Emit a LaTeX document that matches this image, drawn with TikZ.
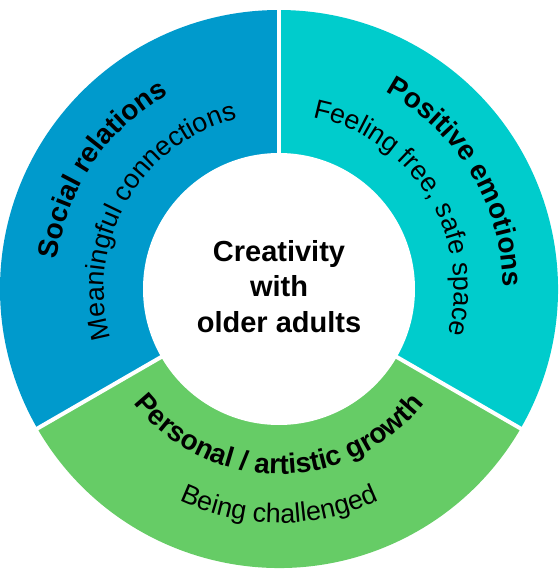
\documentclass[tikz,border=0pt]{standalone}
\usepackage{fontspec}
\setmainfont{Liberation Sans}
\usetikzlibrary{decorations.text}
\definecolor{segblue}{HTML}{009ACC}
\definecolor{segteal}{HTML}{00CCCC}
\definecolor{seggreen}{HTML}{66CC66}
\newcommand\headfont{\fontsize{15.9}{20.3}\selectfont\bfseries}
\newcommand\corefont{\fontsize{16.5}{20.3}\selectfont\bfseries}
\newcommand\subfont{\fontsize{15.3}{18}\selectfont}

\begin{document}
\begin{tikzpicture}[
  gapline/.style={draw=white, line width=0.8mm},
  curved/.style={decorate, decoration={text along path, text align=center, text={#1}}},
  every node/.style={font=\corefont}
]
\useasboundingbox (-5.58,-5.62) rectangle (5.60,5.78);
\fill[segblue] (0,0) -- (90:5.58) arc[start angle=90, end angle=210, radius=5.58] -- cycle;
\fill[segteal] (0,0) -- (-30:5.58) arc[start angle=-30, end angle=90, radius=5.58] -- cycle;
\fill[seggreen] (0,0) -- (210:5.58) arc[start angle=210, end angle=330, radius=5.58] -- cycle;
\foreach \a in {90,210,330} \draw[gapline] (0,0) -- (\a:5.7);
\fill[white] (0,0) circle[radius=2.72];
\node[align=center] (core) at (0,0.05) {Creativity\\with\\older adults};
\path[curved={|\headfont|Social relations}] (206:4.48) arc[start angle=206, end angle=86, radius=4.48];
\path[curved={|\subfont|Meaningful connections}] (210:3.50) arc[start angle=210, end angle=90, radius=3.50];
\path[curved={|\headfont|Positive emotions}] (91:4.48) arc[start angle=91, end angle=-29, radius=4.48];
\path[curved={|\subfont|Feeling free, safe space}] (92:3.50) arc[start angle=92, end angle=-28, radius=3.50];
\path[curved={|\headfont|Personal / artistic growth}] (205:3.70) arc[start angle=205, end angle=335, radius=3.70];
\path[curved={|\subfont|Being challenged}] (210:4.68) arc[start angle=210, end angle=330, radius=4.68];
\end{tikzpicture}
\end{document}
